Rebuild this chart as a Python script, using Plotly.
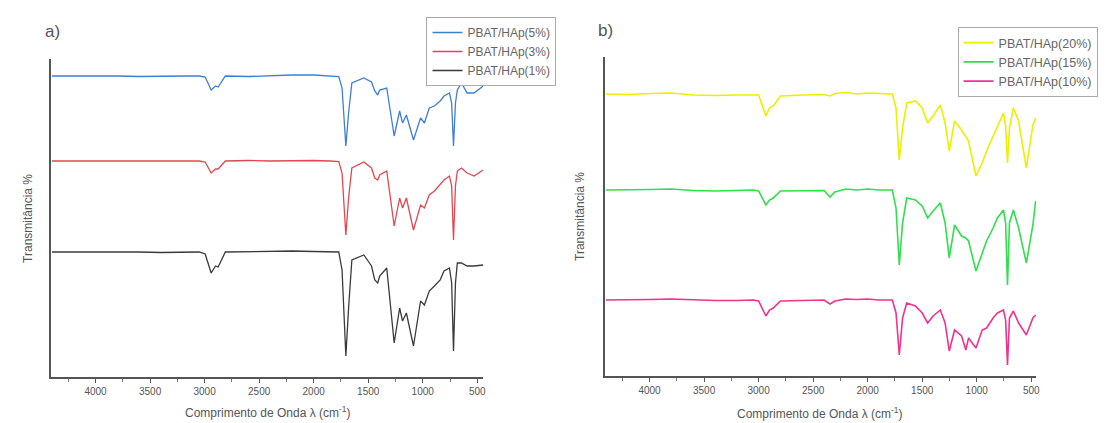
import plotly.graph_objects as go

W, H = 1109, 423

# ---------------- data ----------------
wn_a = [4400, 4200, 4000, 3800, 3600, 3400, 3200, 3050, 2995, 2940, 2900, 2876, 2810, 2600, 2400,
        2200, 2000, 1850, 1770, 1740, 1705, 1680, 1650, 1540, 1470, 1440, 1413, 1395, 1330, 1262,
        1212, 1185, 1150, 1085, 1020, 985, 940, 893, 840, 805, 755, 735, 718, 700, 683, 645, 593,
        530, 445]
t_5 = [301, 301, 301.5, 301, 300.5, 301, 301, 301, 300, 287, 291, 290, 301, 300.5, 301.5,
       302, 302, 301, 300.5, 289, 231, 264, 294, 299, 295, 286, 282, 287, 289, 241,
       266, 254, 262, 237, 259, 254, 269, 271, 276, 281, 284, 274, 231, 274, 287, 294, 284,
       284, 291]
t_3 = [216, 216, 215.5, 216, 216, 215.5, 216, 216, 215, 204, 208, 208, 216, 216.5, 216,
       216.5, 216.5, 216, 215.5, 204, 142, 179, 209, 215, 209, 199, 197, 202, 206, 151,
       179, 169, 179, 147, 172, 169, 182, 186, 192, 197, 201, 191, 137, 191, 206, 209, 204,
       201, 207]
t_1 = [125, 125, 125, 125.5, 125, 124.5, 125, 125, 123, 104, 111, 110, 125, 125.5, 125.5,
       126, 125.5, 125, 125, 107, 21, 69, 117, 122, 111, 97, 94, 101, 109, 34,
       69, 56, 64, 31, 76, 72, 86, 91, 97, 106, 109, 94, 26, 94, 114, 114, 111,
       111, 112]

wn_b = [4400, 4200, 4000, 3800, 3600, 3400, 3200, 3050, 3000, 2933, 2900, 2866, 2800, 2600, 2400,
        2345, 2300, 2200, 2100, 2000, 1900, 1774, 1740, 1710, 1680, 1642, 1562, 1500, 1450, 1400,
        1334, 1290, 1252, 1203, 1139, 1100, 1075, 1007, 950, 910, 850, 810, 755, 735, 718,
        700, 664, 616, 545, 485, 460]
t_20 = [282, 281.5, 282.5, 283, 281, 280.5, 281, 281.5, 281, 260, 268, 270, 280, 281, 281.5,
        280, 282.5, 283.5, 282, 283, 282.5, 282, 268, 216, 248, 273, 275, 268, 253, 260,
        271, 253, 225, 255, 246, 240, 235, 200, 213, 225, 240, 250, 263, 250, 213,
        248, 268, 255, 208, 251, 258]
t_15 = [186, 186, 186.5, 187, 185.5, 185, 185.5, 186, 185, 171, 176, 178, 185, 185.5, 185.5,
        179, 184, 187, 186, 187, 186, 186, 168, 111, 153, 178, 176, 170, 158, 165,
        173, 153, 118, 151, 140, 138, 135, 105, 123, 135, 148, 158, 166, 153, 91,
        153, 166, 148, 113, 151, 175]
t_10 = [76, 76, 76.5, 77, 76, 75.5, 75.5, 76, 75, 60, 66, 68, 75, 75.5, 76,
        72, 75, 77, 76.5, 77, 76, 76, 63, 21, 58, 73, 70, 63, 53, 60,
        66, 53, 25, 46, 40, 26, 38, 28, 46, 48, 58, 63, 66, 56, 11,
        58, 65, 53, 41, 58, 61]

names_a = ["PBAT/HAp(5%)", "PBAT/HAp(3%)", "PBAT/HAp(1%)"]
names_b = ["PBAT/HAp(20%)", "PBAT/HAp(15%)", "PBAT/HAp(10%)"]
tick_vals = [4000, 3500, 3000, 2500, 2000, 1500, 1000, 500]
tick_text = ["4000", "3500", "3000", "2500", "2000", "1500", "1000", "500"]

x_title = "Comprimento de Onda λ (cm<sup>-1</sup>)"
y_title = "Transmitância %"

# ---------------- figure ----------------
def px_x(p):
    return p / W

def px_y(p):
    return 1 - p / H

fig = go.Figure()
cols_a = ["#3d7fd0", "#e4474f", "#3a3a3a"]
cols_b = ["#eeee00", "#2fe04a", "#f0338f"]
for n, t, c in zip(names_a, [t_5, t_3, t_1], cols_a):
    fig.add_trace(go.Scatter(x=wn_a, y=t, name=n, mode="lines",
                             line=dict(color=c, width=1.3), xaxis="x", yaxis="y",
                             legend="legend"))
for n, t, c in zip(names_b, [t_20, t_15, t_10], cols_b):
    fig.add_trace(go.Scatter(x=wn_b, y=t, name=n, mode="lines",
                             line=dict(color=c, width=1.6), xaxis="x2", yaxis="y2",
                             legend="legend2"))

axis_common = dict(showline=True, linecolor="#555", linewidth=1.5, showgrid=False,
                   zeroline=False, ticks="outside", ticklen=4, tickwidth=1,
                   tickcolor="#555", tickvals=tick_vals, ticktext=tick_text,
                   tickfont=dict(family="Liberation Sans, Arial", size=10, color="#555"),
                   minor=dict(ticks="outside", ticklen=3, tickcolor="#777", dtick=250,
                              tick0=250, showgrid=False))
yaxis_common = dict(showline=True, linecolor="#555", linewidth=1.5, showgrid=False,
                    zeroline=False, showticklabels=False, ticks="")

leg_font = dict(family="Liberation Sans, Arial", size=12, color="#666")
fig.update_layout(
    width=W, height=H, margin=dict(l=0, r=0, t=0, b=0),
    paper_bgcolor="white", plot_bgcolor="white",
    xaxis=dict(axis_common, domain=[px_x(43), px_x(477)], range=[4410, 445], anchor="y"),
    yaxis=dict(yaxis_common, domain=[px_y(369), px_y(51)], range=[0, 318], anchor="x"),
    xaxis2=dict(axis_common, domain=[px_x(599), px_x(1032)], range=[4410, 454], anchor="y2"),
    yaxis2=dict(yaxis_common, domain=[px_y(368), px_y(49)], range=[0, 319], anchor="x2"),
    legend=dict(x=px_x(420), y=px_y(9), xanchor="left", yanchor="top",
                bgcolor="white", bordercolor="#aaa", borderwidth=1,
                font=leg_font, tracegroupgap=0, itemwidth=30),
    legend2=dict(x=px_x(953), y=px_y(19), xanchor="left", yanchor="top",
                 bgcolor="white", bordercolor="#aaa", borderwidth=1,
                 font=dict(leg_font, size=12.5), tracegroupgap=0, itemwidth=30),
    showlegend=True,
)

ann_font = dict(family="Liberation Sans, Arial", color="#555")
annotations = [
    dict(text="a)", x=px_x(45), y=px_y(24), font=dict(ann_font, size=17)),
    dict(text="b)", x=px_x(600), y=px_y(23), font=dict(ann_font, size=17)),
    dict(text=x_title, x=px_x(261), y=px_y(404), font=dict(ann_font, size=12)),
    dict(text=x_title, x=px_x(815), y=px_y(405), font=dict(ann_font, size=12)),
    dict(text=y_title, x=px_x(20), y=px_y(210), textangle=-90, font=dict(ann_font, size=12)),
    dict(text=y_title, x=px_x(574), y=px_y(208), textangle=-90, font=dict(ann_font, size=12)),
]
for a in annotations:
    a.update(xref="paper", yref="paper", showarrow=False, xanchor="center", yanchor="middle")
fig.update_layout(annotations=annotations)

fig.write_html("out.html")
